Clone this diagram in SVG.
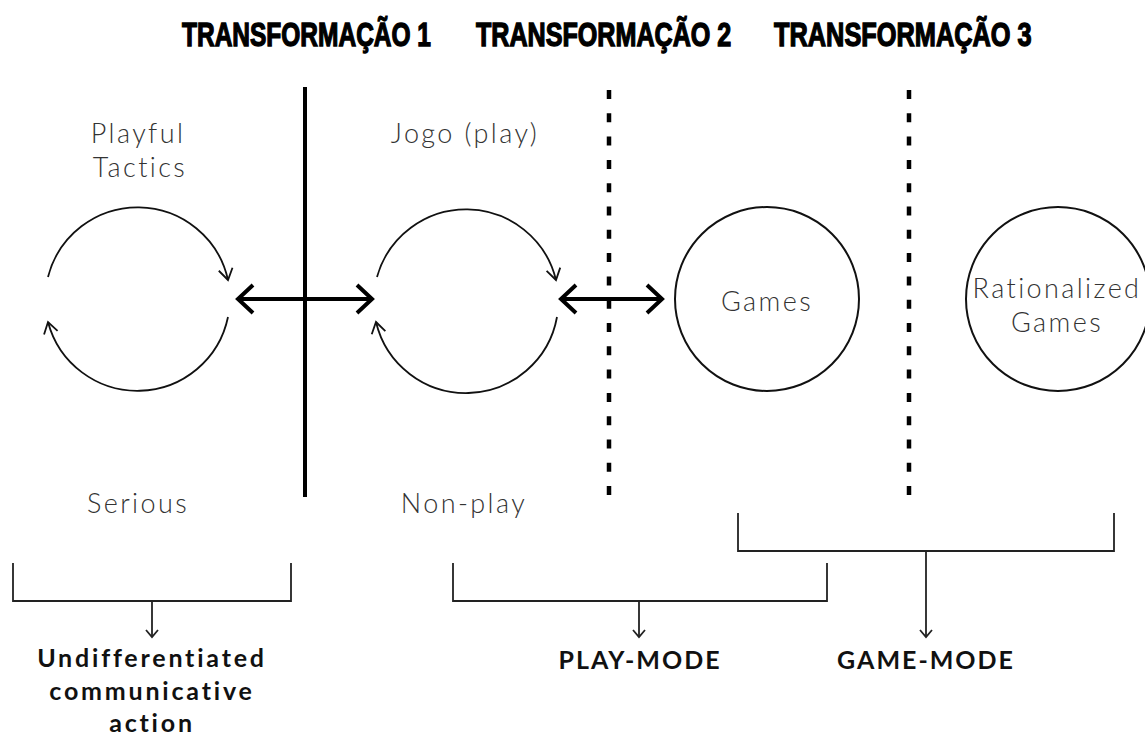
<svg xmlns="http://www.w3.org/2000/svg" width="1145" height="738" viewBox="0 0 1145 738">
<style>
.title{font-family:"Liberation Sans",Arial,sans-serif;font-weight:bold;font-size:24.5px;fill:#000;stroke:#000;stroke-width:1}
.lbl{font-family:Lato,"Open Sans","Noto Sans",sans-serif;font-weight:300;font-size:27px;fill:#333;text-anchor:middle;letter-spacing:2.4px}
.mode{font-family:Lato,"Open Sans","Noto Sans",sans-serif;font-weight:bold;font-size:25px;fill:#111;text-anchor:middle;letter-spacing:2.8px}
.caps{letter-spacing:2px}
.thin{fill:none;stroke:#111;stroke-width:1.8}
.node{fill:none;stroke:#111;stroke-width:2}
.thick{fill:none;stroke:#000;stroke-width:4}
.brk{fill:none;stroke:#222;stroke-width:1.8}
</style>
<defs>
<marker id="loopHead" markerUnits="userSpaceOnUse" markerWidth="30" markerHeight="30" refX="0" refY="0" viewBox="-15 -15 30 30" orient="auto">
<path d="M-11,-7 L0,0 L-11,7" fill="none" stroke="#111" stroke-width="1.8"/>
</marker>
<marker id="bigHead" markerUnits="userSpaceOnUse" markerWidth="40" markerHeight="40" refX="0" refY="0" viewBox="-20 -20 40 40" orient="auto-start-reverse">
<path d="M-15,-14 L0,0 L-15,14" fill="none" stroke="#000" stroke-width="4"/>
</marker>
<marker id="smallHead" markerUnits="userSpaceOnUse" markerWidth="20" markerHeight="20" refX="0" refY="0" viewBox="-10 -10 20 20" orient="auto">
<path d="M-7,-6 L0,0 L-7,6" fill="none" stroke="#222" stroke-width="1.8"/>
</marker>
</defs>
<rect width="1145" height="738" fill="#fff"/>

<g id="titles">
<text class="title" transform="translate(182,46) scale(1.0,1.36)">TRANSFORMAÇÃO 1</text>
<text class="title" transform="translate(476,46) scale(1.025,1.36)">TRANSFORMAÇÃO 2</text>
<text class="title" transform="translate(774,46) scale(1.035,1.36)">TRANSFORMAÇÃO 3</text>
</g>

<g id="dividers">
<line x1="305" y1="87" x2="305" y2="497" stroke="#000" stroke-width="4"/>
<line x1="609" y1="90" x2="609" y2="497" stroke="#000" stroke-width="4.5" stroke-dasharray="9 14.3"/>
<line x1="909" y1="90" x2="909" y2="497" stroke="#000" stroke-width="4.5" stroke-dasharray="9 14.3"/>
</g>

<g id="undifferentiated-loop">
<text class="lbl" x="138" y="143">Playful</text>
<text class="lbl" x="140" y="177">Tactics</text>
<text class="lbl" x="138" y="513">Serious</text>
</g>

<g id="play-loop">
<text class="lbl" x="465" y="143">Jogo (play)</text>
<text class="lbl" x="464" y="513">Non-play</text>
</g>

<g id="games">
<circle class="node" cx="767" cy="299" r="92"/>
<text class="lbl" x="767" y="311">Games</text>
</g>

<g id="rationalized-games">
<circle class="node" cx="1058" cy="299" r="92"/>
<text class="lbl" x="1057" y="298">Rationalized</text>
<text class="lbl" x="1057" y="332">Games</text>
</g>

<g id="undifferentiated-action">
<text class="mode" x="152" y="667">Undifferentiated</text>
<text class="mode" x="152" y="700">communicative</text>
<text class="mode" x="152" y="732">action</text>
</g>

<g id="play-mode">
<text class="mode caps" x="640" y="669">PLAY-MODE</text>
</g>

<g id="game-mode">
<text class="mode caps" x="926" y="669">GAME-MODE</text>
</g>

<g id="connectors">
<path class="thin" d="M48,277 A92.5,92.5 0 0 1 228,280" marker-end="url(#loopHead)"/>
<path class="thin" d="M228,317 A92.5,92.5 0 0 1 48,322" marker-end="url(#loopHead)"/>
<path class="thin" d="M377,277 A92.5,92.5 0 0 1 556,280" marker-end="url(#loopHead)"/>
<path class="thin" d="M557,317 A92.5,92.5 0 0 1 376,322" marker-end="url(#loopHead)"/>
<line class="thick" x1="238" y1="299" x2="372" y2="299" marker-start="url(#bigHead)" marker-end="url(#bigHead)"/>
<line class="thick" x1="561" y1="299" x2="662" y2="299" marker-start="url(#bigHead)" marker-end="url(#bigHead)"/>
<path class="brk" d="M13,563 V601 H291 V563"/>
<line class="brk" x1="152" y1="601" x2="152" y2="637" marker-end="url(#smallHead)"/>
<path class="brk" d="M453,563 V601 H827 V563"/>
<line class="brk" x1="639" y1="601" x2="639" y2="637" marker-end="url(#smallHead)"/>
<path class="brk" d="M738,513 V551 H1114 V513"/>
<line class="brk" x1="926" y1="551" x2="926" y2="637" marker-end="url(#smallHead)"/>
</g>
</svg>
